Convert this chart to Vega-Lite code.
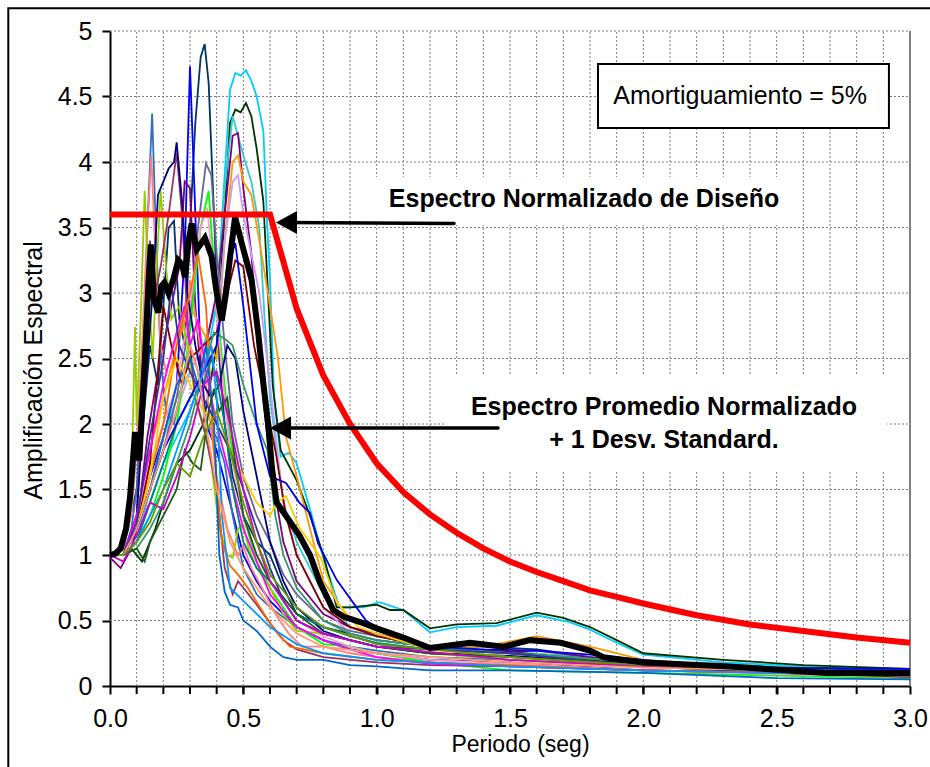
{
"$schema":"https://vega.github.io/schema/vega-lite/v6.json",
"width":800,"height":655,
"autosize":{"type":"none"},
"padding":{"left":110,"top":31,"right":20,"bottom":81},
"background":"white",
"config":{"font":"Liberation Sans","view":{"stroke":null},
"axis":{"domainColor":"black","domainWidth":2,"tickColor":"black","tickWidth":2,"tickSize":8,"labelColor":"black","labelFontSize":25,"labelFont":"Liberation Sans","titleColor":"black","titleFontSize":23,"titleFontWeight":"normal","titleFont":"Liberation Sans","grid":false,"zindex":1}},
"datasets":{
"gridx":[{"t":0.1},{"t":0.2},{"t":0.3},{"t":0.4},{"t":0.5},{"t":0.6},{"t":0.7},{"t":0.8},{"t":0.9},{"t":1.0},{"t":1.1},{"t":1.2},{"t":1.3},{"t":1.4},{"t":1.5},{"t":1.6},{"t":1.7},{"t":1.8},{"t":1.9},{"t":2.0},{"t":2.1},{"t":2.2},{"t":2.3},{"t":2.4},{"t":2.5},{"t":2.6},{"t":2.7},{"t":2.8},{"t":2.9}],
"gridy":[{"v":0.5},{"v":1.0},{"v":1.5},{"v":2.0},{"v":2.5},{"v":3.0},{"v":3.5},{"v":4.0},{"v":4.5},{"v":5.0}],
"recs":[
{"s":"a","t":0,"v":1.0},{"s":"a","t":0.05,"v":1.05},{"s":"a","t":0.1,"v":1.5},{"s":"a","t":0.12,"v":1.9},{"s":"a","t":0.15,"v":2.6},{"s":"a","t":0.18,"v":2.3},{"s":"a","t":0.2,"v":2.9},{"s":"a","t":0.22,"v":3.5},{"s":"a","t":0.24,"v":3.55},{"s":"a","t":0.26,"v":2.8},{"s":"a","t":0.28,"v":2.6},{"s":"a","t":0.3,"v":3.5},{"s":"a","t":0.32,"v":4.3},{"s":"a","t":0.34,"v":4.8},{"s":"a","t":0.355,"v":4.9},{"s":"a","t":0.37,"v":4.6},{"s":"a","t":0.39,"v":3.6},{"s":"a","t":0.41,"v":2.5},{"s":"a","t":0.43,"v":2.0},{"s":"a","t":0.46,"v":1.6},{"s":"a","t":0.5,"v":1.3},{"s":"a","t":0.55,"v":1.1},{"s":"a","t":0.6,"v":1.0},{"s":"a","t":0.65,"v":0.75},{"s":"a","t":0.7,"v":0.55},{"s":"a","t":0.8,"v":0.45},{"s":"a","t":0.9,"v":0.4},{"s":"a","t":1.0,"v":0.35},{"s":"a","t":1.2,"v":0.3},{"s":"a","t":1.4,"v":0.3},{"s":"a","t":1.6,"v":0.28},{"s":"a","t":1.8,"v":0.22},{"s":"a","t":2.0,"v":0.18},{"s":"a","t":2.5,"v":0.13},{"s":"a","t":3.0,"v":0.1},
{"s":"b","t":0,"v":1.0},{"s":"b","t":0.05,"v":1.0},{"s":"b","t":0.1,"v":1.2},{"s":"b","t":0.15,"v":1.6},{"s":"b","t":0.2,"v":1.9},{"s":"b","t":0.25,"v":2.3},{"s":"b","t":0.28,"v":3.3},{"s":"b","t":0.3,"v":4.73},{"s":"b","t":0.32,"v":3.6},{"s":"b","t":0.34,"v":2.5},{"s":"b","t":0.36,"v":2.0},{"s":"b","t":0.4,"v":1.8},{"s":"b","t":0.45,"v":1.4},{"s":"b","t":0.5,"v":1.0},{"s":"b","t":0.55,"v":0.8},{"s":"b","t":0.6,"v":0.65},{"s":"b","t":0.7,"v":0.45},{"s":"b","t":0.8,"v":0.35},{"s":"b","t":0.9,"v":0.28},{"s":"b","t":1.0,"v":0.25},{"s":"b","t":1.2,"v":0.2},{"s":"b","t":1.5,"v":0.18},{"s":"b","t":2.0,"v":0.12},{"s":"b","t":2.5,"v":0.1},{"s":"b","t":3.0,"v":0.08},
{"s":"c","t":0,"v":1.0},{"s":"c","t":0.05,"v":1.05},{"s":"c","t":0.1,"v":1.2},{"s":"c","t":0.15,"v":1.4},{"s":"c","t":0.2,"v":1.7},{"s":"c","t":0.25,"v":1.9},{"s":"c","t":0.3,"v":2.1},{"s":"c","t":0.35,"v":2.4},{"s":"c","t":0.4,"v":2.9},{"s":"c","t":0.43,"v":3.9},{"s":"c","t":0.45,"v":4.55},{"s":"c","t":0.47,"v":4.68},{"s":"c","t":0.49,"v":4.66},{"s":"c","t":0.51,"v":4.7},{"s":"c","t":0.53,"v":4.62},{"s":"c","t":0.55,"v":4.5},{"s":"c","t":0.575,"v":4.24},{"s":"c","t":0.59,"v":3.5},{"s":"c","t":0.6,"v":3.1},{"s":"c","t":0.615,"v":2.2},{"s":"c","t":0.64,"v":1.75},{"s":"c","t":0.67,"v":1.78},{"s":"c","t":0.7,"v":1.7},{"s":"c","t":0.75,"v":1.35},{"s":"c","t":0.8,"v":0.98},{"s":"c","t":0.86,"v":0.6},{"s":"c","t":0.95,"v":0.6},{"s":"c","t":1.01,"v":0.64},{"s":"c","t":1.1,"v":0.58},{"s":"c","t":1.2,"v":0.41},{"s":"c","t":1.3,"v":0.45},{"s":"c","t":1.45,"v":0.46},{"s":"c","t":1.6,"v":0.54},{"s":"c","t":1.72,"v":0.49},{"s":"c","t":1.8,"v":0.43},{"s":"c","t":1.9,"v":0.33},{"s":"c","t":2.0,"v":0.24},{"s":"c","t":2.3,"v":0.18},{"s":"c","t":2.6,"v":0.15},{"s":"c","t":3.0,"v":0.12},
{"s":"d","t":0,"v":1.0},{"s":"d","t":0.05,"v":1.0},{"s":"d","t":0.08,"v":1.05},{"s":"d","t":0.1,"v":1.0},{"s":"d","t":0.12,"v":0.95},{"s":"d","t":0.14,"v":1.05},{"s":"d","t":0.17,"v":1.2},{"s":"d","t":0.2,"v":1.4},{"s":"d","t":0.25,"v":1.7},{"s":"d","t":0.3,"v":1.8},{"s":"d","t":0.35,"v":2.0},{"s":"d","t":0.4,"v":2.6},{"s":"d","t":0.43,"v":3.6},{"s":"d","t":0.45,"v":4.3},{"s":"d","t":0.47,"v":4.4},{"s":"d","t":0.49,"v":4.38},{"s":"d","t":0.51,"v":4.45},{"s":"d","t":0.53,"v":4.35},{"s":"d","t":0.55,"v":4.1},{"s":"d","t":0.575,"v":3.7},{"s":"d","t":0.59,"v":3.1},{"s":"d","t":0.61,"v":2.3},{"s":"d","t":0.64,"v":1.8},{"s":"d","t":0.7,"v":1.57},{"s":"d","t":0.75,"v":1.3},{"s":"d","t":0.8,"v":1.0},{"s":"d","t":0.85,"v":0.6},{"s":"d","t":0.9,"v":0.6},{"s":"d","t":1.0,"v":0.62},{"s":"d","t":1.05,"v":0.58},{"s":"d","t":1.1,"v":0.58},{"s":"d","t":1.2,"v":0.44},{"s":"d","t":1.3,"v":0.47},{"s":"d","t":1.45,"v":0.48},{"s":"d","t":1.6,"v":0.56},{"s":"d","t":1.7,"v":0.52},{"s":"d","t":1.8,"v":0.45},{"s":"d","t":1.9,"v":0.35},{"s":"d","t":2.0,"v":0.25},{"s":"d","t":2.3,"v":0.2},{"s":"d","t":2.6,"v":0.16},{"s":"d","t":3.0,"v":0.13},
{"s":"e","t":0,"v":1.0},{"s":"e","t":0.05,"v":1.0},{"s":"e","t":0.1,"v":1.1},{"s":"e","t":0.15,"v":1.5},{"s":"e","t":0.2,"v":1.9},{"s":"e","t":0.25,"v":2.2},{"s":"e","t":0.3,"v":2.4},{"s":"e","t":0.35,"v":2.6},{"s":"e","t":0.4,"v":2.9},{"s":"e","t":0.43,"v":3.8},{"s":"e","t":0.46,"v":4.35},{"s":"e","t":0.48,"v":4.2},{"s":"e","t":0.5,"v":4.05},{"s":"e","t":0.53,"v":3.85},{"s":"e","t":0.56,"v":3.5},{"s":"e","t":0.58,"v":2.8},{"s":"e","t":0.6,"v":2.2},{"s":"e","t":0.65,"v":1.4},{"s":"e","t":0.7,"v":1.1},{"s":"e","t":0.8,"v":0.7},{"s":"e","t":0.9,"v":0.45},{"s":"e","t":1.0,"v":0.38},{"s":"e","t":1.2,"v":0.3},{"s":"e","t":1.5,"v":0.26},{"s":"e","t":1.8,"v":0.22},{"s":"e","t":2.0,"v":0.18},{"s":"e","t":2.5,"v":0.15},{"s":"e","t":3.0,"v":0.12},
{"s":"f","t":0,"v":0.98},{"s":"f","t":0.04,"v":0.9},{"s":"f","t":0.08,"v":1.05},{"s":"f","t":0.1,"v":1.2},{"s":"f","t":0.14,"v":1.9},{"s":"f","t":0.18,"v":2.4},{"s":"f","t":0.22,"v":2.8},{"s":"f","t":0.26,"v":3.2},{"s":"f","t":0.28,"v":3.85},{"s":"f","t":0.3,"v":3.8},{"s":"f","t":0.32,"v":2.9},{"s":"f","t":0.34,"v":2.4},{"s":"f","t":0.38,"v":2.8},{"s":"f","t":0.4,"v":3.0},{"s":"f","t":0.43,"v":3.6},{"s":"f","t":0.46,"v":4.2},{"s":"f","t":0.48,"v":4.22},{"s":"f","t":0.5,"v":3.8},{"s":"f","t":0.53,"v":3.3},{"s":"f","t":0.56,"v":2.5},{"s":"f","t":0.6,"v":1.7},{"s":"f","t":0.65,"v":1.1},{"s":"f","t":0.7,"v":0.8},{"s":"f","t":0.8,"v":0.55},{"s":"f","t":0.9,"v":0.45},{"s":"f","t":1.0,"v":0.4},{"s":"f","t":1.2,"v":0.3},{"s":"f","t":1.5,"v":0.26},{"s":"f","t":1.6,"v":0.27},{"s":"f","t":1.8,"v":0.22},{"s":"f","t":2.0,"v":0.16},{"s":"f","t":2.5,"v":0.1},{"s":"f","t":3.0,"v":0.06},
{"s":"g","t":0,"v":1.0},{"s":"g","t":0.05,"v":1.0},{"s":"g","t":0.1,"v":1.3},{"s":"g","t":0.15,"v":1.8},{"s":"g","t":0.2,"v":2.2},{"s":"g","t":0.25,"v":2.6},{"s":"g","t":0.3,"v":2.9},{"s":"g","t":0.35,"v":2.7},{"s":"g","t":0.4,"v":2.5},{"s":"g","t":0.43,"v":3.4},{"s":"g","t":0.46,"v":4.0},{"s":"g","t":0.48,"v":4.05},{"s":"g","t":0.5,"v":3.85},{"s":"g","t":0.53,"v":3.75},{"s":"g","t":0.56,"v":3.4},{"s":"g","t":0.6,"v":2.9},{"s":"g","t":0.63,"v":2.5},{"s":"g","t":0.66,"v":1.9},{"s":"g","t":0.7,"v":1.6},{"s":"g","t":0.75,"v":1.2},{"s":"g","t":0.8,"v":0.8},{"s":"g","t":0.9,"v":0.5},{"s":"g","t":1.0,"v":0.45},{"s":"g","t":1.1,"v":0.38},{"s":"g","t":1.2,"v":0.3},{"s":"g","t":1.4,"v":0.3},{"s":"g","t":1.6,"v":0.38},{"s":"g","t":1.8,"v":0.3},{"s":"g","t":2.0,"v":0.2},{"s":"g","t":2.5,"v":0.13},{"s":"g","t":3.0,"v":0.1},
{"s":"h","t":0,"v":1.0},{"s":"h","t":0.05,"v":1.0},{"s":"h","t":0.1,"v":1.2},{"s":"h","t":0.15,"v":1.5},{"s":"h","t":0.2,"v":1.9},{"s":"h","t":0.25,"v":2.1},{"s":"h","t":0.3,"v":2.4},{"s":"h","t":0.35,"v":2.6},{"s":"h","t":0.4,"v":2.7},{"s":"h","t":0.43,"v":3.4},{"s":"h","t":0.46,"v":3.85},{"s":"h","t":0.48,"v":3.9},{"s":"h","t":0.5,"v":3.6},{"s":"h","t":0.53,"v":3.3},{"s":"h","t":0.56,"v":3.0},{"s":"h","t":0.6,"v":2.3},{"s":"h","t":0.65,"v":1.4},{"s":"h","t":0.7,"v":1.0},{"s":"h","t":0.8,"v":0.6},{"s":"h","t":0.9,"v":0.4},{"s":"h","t":1.0,"v":0.32},{"s":"h","t":1.2,"v":0.25},{"s":"h","t":1.5,"v":0.22},{"s":"h","t":2.0,"v":0.15},{"s":"h","t":2.5,"v":0.1},{"s":"h","t":3.0,"v":0.08},
{"s":"i","t":0,"v":1.0},{"s":"i","t":0.05,"v":1.0},{"s":"i","t":0.08,"v":1.2},{"s":"i","t":0.1,"v":1.5},{"s":"i","t":0.12,"v":2.3},{"s":"i","t":0.14,"v":3.5},{"s":"i","t":0.158,"v":4.37},{"s":"i","t":0.17,"v":3.6},{"s":"i","t":0.19,"v":2.5},{"s":"i","t":0.21,"v":2.1},{"s":"i","t":0.24,"v":2.0},{"s":"i","t":0.27,"v":2.3},{"s":"i","t":0.3,"v":2.6},{"s":"i","t":0.33,"v":2.4},{"s":"i","t":0.36,"v":2.0},{"s":"i","t":0.4,"v":1.9},{"s":"i","t":0.43,"v":1.7},{"s":"i","t":0.46,"v":1.3},{"s":"i","t":0.5,"v":0.9},{"s":"i","t":0.55,"v":0.7},{"s":"i","t":0.6,"v":0.6},{"s":"i","t":0.7,"v":0.45},{"s":"i","t":0.8,"v":0.35},{"s":"i","t":0.9,"v":0.3},{"s":"i","t":1.0,"v":0.27},{"s":"i","t":1.2,"v":0.22},{"s":"i","t":1.5,"v":0.2},{"s":"i","t":2.0,"v":0.15},{"s":"i","t":2.5,"v":0.12},{"s":"i","t":3.0,"v":0.1},
{"s":"j","t":0,"v":1.0},{"s":"j","t":0.05,"v":1.05},{"s":"j","t":0.08,"v":1.3},{"s":"j","t":0.1,"v":1.8},{"s":"j","t":0.12,"v":2.6},{"s":"j","t":0.14,"v":3.5},{"s":"j","t":0.155,"v":4.05},{"s":"j","t":0.17,"v":3.3},{"s":"j","t":0.19,"v":2.6},{"s":"j","t":0.21,"v":2.4},{"s":"j","t":0.24,"v":2.6},{"s":"j","t":0.27,"v":2.8},{"s":"j","t":0.3,"v":3.1},{"s":"j","t":0.33,"v":2.7},{"s":"j","t":0.36,"v":2.3},{"s":"j","t":0.4,"v":1.6},{"s":"j","t":0.44,"v":1.2},{"s":"j","t":0.48,"v":1.0},{"s":"j","t":0.5,"v":1.07},{"s":"j","t":0.53,"v":0.9},{"s":"j","t":0.575,"v":0.73},{"s":"j","t":0.62,"v":0.55},{"s":"j","t":0.67,"v":0.4},{"s":"j","t":0.72,"v":0.3},{"s":"j","t":0.8,"v":0.3},{"s":"j","t":0.9,"v":0.25},{"s":"j","t":1.0,"v":0.22},{"s":"j","t":1.2,"v":0.18},{"s":"j","t":1.5,"v":0.15},{"s":"j","t":2.0,"v":0.12},{"s":"j","t":2.5,"v":0.1},{"s":"j","t":3.0,"v":0.08},
{"s":"k","t":0,"v":1.0},{"s":"k","t":0.05,"v":1.0},{"s":"k","t":0.1,"v":1.2},{"s":"k","t":0.15,"v":1.5},{"s":"k","t":0.2,"v":1.8},{"s":"k","t":0.25,"v":2.2},{"s":"k","t":0.3,"v":2.8},{"s":"k","t":0.33,"v":3.5},{"s":"k","t":0.36,"v":3.99},{"s":"k","t":0.38,"v":3.9},{"s":"k","t":0.4,"v":3.3},{"s":"k","t":0.43,"v":2.6},{"s":"k","t":0.46,"v":2.0},{"s":"k","t":0.5,"v":1.6},{"s":"k","t":0.55,"v":1.3},{"s":"k","t":0.6,"v":1.1},{"s":"k","t":0.65,"v":0.85},{"s":"k","t":0.7,"v":0.7},{"s":"k","t":0.8,"v":0.5},{"s":"k","t":0.9,"v":0.42},{"s":"k","t":1.0,"v":0.38},{"s":"k","t":1.2,"v":0.3},{"s":"k","t":1.5,"v":0.25},{"s":"k","t":2.0,"v":0.18},{"s":"k","t":2.5,"v":0.14},{"s":"k","t":3.0,"v":0.12},
{"s":"l","t":0,"v":1.0},{"s":"l","t":0.05,"v":1.0},{"s":"l","t":0.1,"v":1.1},{"s":"l","t":0.15,"v":1.3},{"s":"l","t":0.2,"v":1.6},{"s":"l","t":0.25,"v":2.0},{"s":"l","t":0.3,"v":2.7},{"s":"l","t":0.34,"v":3.5},{"s":"l","t":0.37,"v":3.78},{"s":"l","t":0.39,"v":3.2},{"s":"l","t":0.42,"v":2.5},{"s":"l","t":0.45,"v":1.9},{"s":"l","t":0.5,"v":1.3},{"s":"l","t":0.55,"v":0.95},{"s":"l","t":0.6,"v":0.75},{"s":"l","t":0.65,"v":0.6},{"s":"l","t":0.7,"v":0.45},{"s":"l","t":0.8,"v":0.32},{"s":"l","t":0.9,"v":0.3},{"s":"l","t":1.0,"v":0.25},{"s":"l","t":1.2,"v":0.18},{"s":"l","t":1.5,"v":0.12},{"s":"l","t":2.0,"v":0.1},{"s":"l","t":2.5,"v":0.08},{"s":"l","t":3.0,"v":0.06},
{"s":"m","t":0,"v":1.0},{"s":"m","t":0.05,"v":1.0},{"s":"m","t":0.1,"v":1.3},{"s":"m","t":0.15,"v":1.7},{"s":"m","t":0.2,"v":2.0},{"s":"m","t":0.25,"v":2.3},{"s":"m","t":0.3,"v":2.9},{"s":"m","t":0.34,"v":3.5},{"s":"m","t":0.365,"v":3.65},{"s":"m","t":0.39,"v":3.1},{"s":"m","t":0.42,"v":2.4},{"s":"m","t":0.45,"v":1.8},{"s":"m","t":0.5,"v":1.3},{"s":"m","t":0.55,"v":1.0},{"s":"m","t":0.6,"v":0.8},{"s":"m","t":0.7,"v":0.5},{"s":"m","t":0.8,"v":0.38},{"s":"m","t":0.9,"v":0.3},{"s":"m","t":1.0,"v":0.25},{"s":"m","t":1.2,"v":0.2},{"s":"m","t":1.5,"v":0.17},{"s":"m","t":2.0,"v":0.12},{"s":"m","t":2.5,"v":0.09},{"s":"m","t":3.0,"v":0.07},
{"s":"n","t":0,"v":1.0},{"s":"n","t":0.05,"v":1.05},{"s":"n","t":0.08,"v":1.5},{"s":"n","t":0.094,"v":2.74},{"s":"n","t":0.1,"v":2.0},{"s":"n","t":0.115,"v":2.8},{"s":"n","t":0.13,"v":3.78},{"s":"n","t":0.145,"v":3.0},{"s":"n","t":0.16,"v":2.5},{"s":"n","t":0.175,"v":3.2},{"s":"n","t":0.19,"v":3.78},{"s":"n","t":0.21,"v":3.2},{"s":"n","t":0.23,"v":2.8},{"s":"n","t":0.26,"v":2.9},{"s":"n","t":0.29,"v":2.6},{"s":"n","t":0.32,"v":2.2},{"s":"n","t":0.35,"v":2.0},{"s":"n","t":0.38,"v":1.7},{"s":"n","t":0.41,"v":1.2},{"s":"n","t":0.44,"v":1.0},{"s":"n","t":0.46,"v":0.98},{"s":"n","t":0.48,"v":1.2},{"s":"n","t":0.5,"v":1.23},{"s":"n","t":0.52,"v":1.05},{"s":"n","t":0.55,"v":0.9},{"s":"n","t":0.6,"v":0.75},{"s":"n","t":0.65,"v":0.55},{"s":"n","t":0.7,"v":0.42},{"s":"n","t":0.8,"v":0.4},{"s":"n","t":0.9,"v":0.35},{"s":"n","t":1.0,"v":0.3},{"s":"n","t":1.2,"v":0.25},{"s":"n","t":1.5,"v":0.2},{"s":"n","t":2.0,"v":0.15},{"s":"n","t":2.5,"v":0.1},{"s":"n","t":3.0,"v":0.08},
{"s":"o","t":0,"v":1.0},{"s":"o","t":0.05,"v":1.0},{"s":"o","t":0.1,"v":1.3},{"s":"o","t":0.13,"v":2.5},{"s":"o","t":0.15,"v":3.4},{"s":"o","t":0.17,"v":3.0},{"s":"o","t":0.19,"v":3.2},{"s":"o","t":0.22,"v":3.6},{"s":"o","t":0.25,"v":4.07},{"s":"o","t":0.27,"v":3.6},{"s":"o","t":0.29,"v":2.8},{"s":"o","t":0.32,"v":2.2},{"s":"o","t":0.36,"v":1.9},{"s":"o","t":0.4,"v":1.5},{"s":"o","t":0.43,"v":0.9},{"s":"o","t":0.46,"v":0.7},{"s":"o","t":0.48,"v":0.8},{"s":"o","t":0.5,"v":0.75},{"s":"o","t":0.55,"v":0.62},{"s":"o","t":0.6,"v":0.48},{"s":"o","t":0.65,"v":0.35},{"s":"o","t":0.7,"v":0.28},{"s":"o","t":0.8,"v":0.22},{"s":"o","t":1.0,"v":0.18},{"s":"o","t":1.2,"v":0.16},{"s":"o","t":1.5,"v":0.15},{"s":"o","t":2.0,"v":0.12},{"s":"o","t":2.5,"v":0.1},{"s":"o","t":3.0,"v":0.08},
{"s":"p","t":0,"v":1.0},{"s":"p","t":0.05,"v":1.0},{"s":"p","t":0.1,"v":1.3},{"s":"p","t":0.13,"v":2.2},{"s":"p","t":0.16,"v":3.0},{"s":"p","t":0.18,"v":3.75},{"s":"p","t":0.2,"v":3.85},{"s":"p","t":0.22,"v":3.95},{"s":"p","t":0.24,"v":4.0},{"s":"p","t":0.25,"v":4.15},{"s":"p","t":0.27,"v":3.7},{"s":"p","t":0.29,"v":3.0},{"s":"p","t":0.32,"v":2.6},{"s":"p","t":0.35,"v":2.3},{"s":"p","t":0.38,"v":2.2},{"s":"p","t":0.41,"v":2.3},{"s":"p","t":0.44,"v":2.6},{"s":"p","t":0.47,"v":2.5},{"s":"p","t":0.5,"v":2.1},{"s":"p","t":0.55,"v":1.6},{"s":"p","t":0.6,"v":1.1},{"s":"p","t":0.65,"v":0.8},{"s":"p","t":0.7,"v":0.6},{"s":"p","t":0.8,"v":0.42},{"s":"p","t":0.9,"v":0.35},{"s":"p","t":1.0,"v":0.3},{"s":"p","t":1.2,"v":0.25},{"s":"p","t":1.5,"v":0.23},{"s":"p","t":2.0,"v":0.17},{"s":"p","t":2.5,"v":0.14},{"s":"p","t":3.0,"v":0.13},
{"s":"q","t":0,"v":1.0},{"s":"q","t":0.05,"v":1.0},{"s":"q","t":0.1,"v":1.2},{"s":"q","t":0.15,"v":1.7},{"s":"q","t":0.2,"v":2.9},{"s":"q","t":0.23,"v":2.6},{"s":"q","t":0.27,"v":2.3},{"s":"q","t":0.3,"v":2.5},{"s":"q","t":0.35,"v":2.6},{"s":"q","t":0.4,"v":2.7},{"s":"q","t":0.44,"v":3.0},{"s":"q","t":0.47,"v":3.25},{"s":"q","t":0.5,"v":3.2},{"s":"q","t":0.54,"v":2.6},{"s":"q","t":0.58,"v":2.2},{"s":"q","t":0.62,"v":1.8},{"s":"q","t":0.66,"v":1.3},{"s":"q","t":0.7,"v":1.0},{"s":"q","t":0.8,"v":0.6},{"s":"q","t":0.9,"v":0.45},{"s":"q","t":1.0,"v":0.38},{"s":"q","t":1.2,"v":0.3},{"s":"q","t":1.5,"v":0.26},{"s":"q","t":2.0,"v":0.15},{"s":"q","t":2.5,"v":0.1},{"s":"q","t":3.0,"v":0.07},
{"s":"r","t":0,"v":1.0},{"s":"r","t":0.05,"v":1.0},{"s":"r","t":0.1,"v":1.3},{"s":"r","t":0.15,"v":1.8},{"s":"r","t":0.2,"v":2.3},{"s":"r","t":0.25,"v":2.7},{"s":"r","t":0.28,"v":2.9},{"s":"r","t":0.3,"v":2.6},{"s":"r","t":0.33,"v":2.8},{"s":"r","t":0.36,"v":2.4},{"s":"r","t":0.4,"v":2.0},{"s":"r","t":0.45,"v":1.6},{"s":"r","t":0.5,"v":1.2},{"s":"r","t":0.55,"v":0.95},{"s":"r","t":0.6,"v":0.7},{"s":"r","t":0.7,"v":0.45},{"s":"r","t":0.8,"v":0.35},{"s":"r","t":0.9,"v":0.28},{"s":"r","t":1.0,"v":0.22},{"s":"r","t":1.2,"v":0.17},{"s":"r","t":1.5,"v":0.15},{"s":"r","t":2.0,"v":0.12},{"s":"r","t":2.5,"v":0.1},{"s":"r","t":3.0,"v":0.08},
{"s":"s","t":0,"v":1.0},{"s":"s","t":0.05,"v":1.0},{"s":"s","t":0.1,"v":1.2},{"s":"s","t":0.15,"v":1.6},{"s":"s","t":0.2,"v":2.0},{"s":"s","t":0.25,"v":2.6},{"s":"s","t":0.3,"v":3.0},{"s":"s","t":0.33,"v":3.3},{"s":"s","t":0.36,"v":2.9},{"s":"s","t":0.39,"v":1.8},{"s":"s","t":0.42,"v":1.1},{"s":"s","t":0.45,"v":0.92},{"s":"s","t":0.48,"v":0.85},{"s":"s","t":0.52,"v":0.74},{"s":"s","t":0.575,"v":0.56},{"s":"s","t":0.62,"v":0.42},{"s":"s","t":0.675,"v":0.3},{"s":"s","t":0.8,"v":0.25},{"s":"s","t":1.0,"v":0.2},{"s":"s","t":1.2,"v":0.18},{"s":"s","t":1.5,"v":0.16},{"s":"s","t":2.0,"v":0.12},{"s":"s","t":2.5,"v":0.1},{"s":"s","t":3.0,"v":0.08},
{"s":"t","t":0,"v":1.0},{"s":"t","t":0.05,"v":1.0},{"s":"t","t":0.1,"v":1.2},{"s":"t","t":0.15,"v":1.5},{"s":"t","t":0.2,"v":1.9},{"s":"t","t":0.25,"v":2.3},{"s":"t","t":0.3,"v":2.5},{"s":"t","t":0.33,"v":2.3},{"s":"t","t":0.36,"v":2.6},{"s":"t","t":0.39,"v":2.0},{"s":"t","t":0.41,"v":1.0},{"s":"t","t":0.43,"v":0.72},{"s":"t","t":0.45,"v":0.62},{"s":"t","t":0.48,"v":0.6},{"s":"t","t":0.5,"v":0.5},{"s":"t","t":0.55,"v":0.42},{"s":"t","t":0.6,"v":0.3},{"s":"t","t":0.65,"v":0.22},{"s":"t","t":0.7,"v":0.2},{"s":"t","t":0.8,"v":0.2},{"s":"t","t":0.9,"v":0.16},{"s":"t","t":1.0,"v":0.15},{"s":"t","t":1.2,"v":0.12},{"s":"t","t":1.5,"v":0.12},{"s":"t","t":2.0,"v":0.1},{"s":"t","t":2.5,"v":0.06},{"s":"t","t":3.0,"v":0.05},
{"s":"u","t":0,"v":1.0},{"s":"u","t":0.05,"v":1.0},{"s":"u","t":0.1,"v":1.1},{"s":"u","t":0.15,"v":1.4},{"s":"u","t":0.2,"v":1.7},{"s":"u","t":0.25,"v":2.0},{"s":"u","t":0.3,"v":2.2},{"s":"u","t":0.35,"v":2.3},{"s":"u","t":0.38,"v":2.5},{"s":"u","t":0.4,"v":2.35},{"s":"u","t":0.43,"v":2.0},{"s":"u","t":0.46,"v":1.5},{"s":"u","t":0.5,"v":1.1},{"s":"u","t":0.55,"v":0.9},{"s":"u","t":0.6,"v":0.8},{"s":"u","t":0.7,"v":0.55},{"s":"u","t":0.8,"v":0.45},{"s":"u","t":0.9,"v":0.38},{"s":"u","t":1.0,"v":0.33},{"s":"u","t":1.2,"v":0.28},{"s":"u","t":1.5,"v":0.25},{"s":"u","t":2.0,"v":0.18},{"s":"u","t":2.5,"v":0.13},{"s":"u","t":3.0,"v":0.12},
{"s":"v","t":0,"v":1.0},{"s":"v","t":0.05,"v":1.0},{"s":"v","t":0.1,"v":1.05},{"s":"v","t":0.15,"v":1.2},{"s":"v","t":0.2,"v":1.4},{"s":"v","t":0.25,"v":1.7},{"s":"v","t":0.3,"v":2.0},{"s":"v","t":0.35,"v":2.4},{"s":"v","t":0.39,"v":2.7},{"s":"v","t":0.43,"v":2.65},{"s":"v","t":0.46,"v":2.6},{"s":"v","t":0.5,"v":2.3},{"s":"v","t":0.55,"v":2.0},{"s":"v","t":0.59,"v":1.8},{"s":"v","t":0.62,"v":1.3},{"s":"v","t":0.65,"v":1.0},{"s":"v","t":0.7,"v":0.75},{"s":"v","t":0.8,"v":0.5},{"s":"v","t":0.9,"v":0.4},{"s":"v","t":1.0,"v":0.35},{"s":"v","t":1.2,"v":0.3},{"s":"v","t":1.5,"v":0.25},{"s":"v","t":2.0,"v":0.18},{"s":"v","t":2.5,"v":0.13},{"s":"v","t":3.0,"v":0.12},
{"s":"w","t":0,"v":1.0},{"s":"w","t":0.05,"v":1.0},{"s":"w","t":0.1,"v":1.2},{"s":"w","t":0.15,"v":1.6},{"s":"w","t":0.2,"v":2.2},{"s":"w","t":0.25,"v":2.5},{"s":"w","t":0.3,"v":2.3},{"s":"w","t":0.35,"v":2.1},{"s":"w","t":0.4,"v":2.0},{"s":"w","t":0.45,"v":1.8},{"s":"w","t":0.5,"v":1.6},{"s":"w","t":0.55,"v":1.4},{"s":"w","t":0.6,"v":1.3},{"s":"w","t":0.625,"v":1.4},{"s":"w","t":0.66,"v":1.45},{"s":"w","t":0.71,"v":1.21},{"s":"w","t":0.79,"v":0.98},{"s":"w","t":0.85,"v":0.64},{"s":"w","t":0.93,"v":0.45},{"s":"w","t":1.0,"v":0.4},{"s":"w","t":1.2,"v":0.28},{"s":"w","t":1.5,"v":0.22},{"s":"w","t":2.0,"v":0.15},{"s":"w","t":2.5,"v":0.12},{"s":"w","t":3.0,"v":0.1},
{"s":"x","t":0,"v":1.0},{"s":"x","t":0.05,"v":1.0},{"s":"x","t":0.1,"v":1.05},{"s":"x","t":0.13,"v":0.95},{"s":"x","t":0.15,"v":1.1},{"s":"x","t":0.2,"v":1.3},{"s":"x","t":0.25,"v":1.5},{"s":"x","t":0.28,"v":1.8},{"s":"x","t":0.31,"v":1.7},{"s":"x","t":0.34,"v":1.65},{"s":"x","t":0.37,"v":2.1},{"s":"x","t":0.39,"v":2.27},{"s":"x","t":0.41,"v":2.1},{"s":"x","t":0.44,"v":2.2},{"s":"x","t":0.47,"v":1.7},{"s":"x","t":0.5,"v":1.3},{"s":"x","t":0.55,"v":1.0},{"s":"x","t":0.6,"v":0.8},{"s":"x","t":0.7,"v":0.55},{"s":"x","t":0.8,"v":0.4},{"s":"x","t":0.9,"v":0.35},{"s":"x","t":1.0,"v":0.3},{"s":"x","t":1.2,"v":0.25},{"s":"x","t":1.5,"v":0.22},{"s":"x","t":2.0,"v":0.16},{"s":"x","t":2.5,"v":0.12},{"s":"x","t":3.0,"v":0.1},
{"s":"y","t":0,"v":1.0},{"s":"y","t":0.05,"v":1.0},{"s":"y","t":0.1,"v":1.25},{"s":"y","t":0.15,"v":1.9},{"s":"y","t":0.2,"v":2.5},{"s":"y","t":0.23,"v":3.05},{"s":"y","t":0.26,"v":2.6},{"s":"y","t":0.3,"v":2.4},{"s":"y","t":0.35,"v":2.2},{"s":"y","t":0.4,"v":2.0},{"s":"y","t":0.45,"v":1.8},{"s":"y","t":0.5,"v":1.5},{"s":"y","t":0.55,"v":1.2},{"s":"y","t":0.6,"v":0.9},{"s":"y","t":0.65,"v":0.65},{"s":"y","t":0.7,"v":0.5},{"s":"y","t":0.8,"v":0.4},{"s":"y","t":0.9,"v":0.35},{"s":"y","t":1.0,"v":0.3},{"s":"y","t":1.2,"v":0.28},{"s":"y","t":1.5,"v":0.25},{"s":"y","t":2.0,"v":0.15},{"s":"y","t":2.5,"v":0.12},{"s":"y","t":3.0,"v":0.1},
{"s":"z","t":0,"v":1.0},{"s":"z","t":0.05,"v":1.0},{"s":"z","t":0.1,"v":1.2},{"s":"z","t":0.15,"v":1.5},{"s":"z","t":0.2,"v":1.8},{"s":"z","t":0.25,"v":2.0},{"s":"z","t":0.3,"v":2.2},{"s":"z","t":0.35,"v":2.4},{"s":"z","t":0.4,"v":2.6},{"s":"z","t":0.44,"v":3.2},{"s":"z","t":0.47,"v":3.38},{"s":"z","t":0.5,"v":2.9},{"s":"z","t":0.55,"v":2.0},{"s":"z","t":0.6,"v":1.6},{"s":"z","t":0.66,"v":1.55},{"s":"z","t":0.71,"v":1.4},{"s":"z","t":0.75,"v":1.32},{"s":"z","t":0.78,"v":1.09},{"s":"z","t":0.85,"v":0.81},{"s":"z","t":0.96,"v":0.5},{"s":"z","t":1.0,"v":0.45},{"s":"z","t":1.1,"v":0.38},{"s":"z","t":1.2,"v":0.3},{"s":"z","t":1.4,"v":0.28},{"s":"z","t":1.6,"v":0.27},{"s":"z","t":1.8,"v":0.24},{"s":"z","t":2.0,"v":0.2},{"s":"z","t":2.3,"v":0.15},{"s":"z","t":2.6,"v":0.13},{"s":"z","t":3.0,"v":0.13},
{"s":"a2","t":0,"v":1.0},{"s":"a2","t":0.05,"v":1.0},{"s":"a2","t":0.1,"v":1.1},{"s":"a2","t":0.15,"v":1.3},{"s":"a2","t":0.2,"v":1.5},{"s":"a2","t":0.25,"v":1.8},{"s":"a2","t":0.3,"v":2.1},{"s":"a2","t":0.35,"v":2.4},{"s":"a2","t":0.38,"v":2.6},{"s":"a2","t":0.4,"v":2.2},{"s":"a2","t":0.42,"v":1.3},{"s":"a2","t":0.45,"v":0.75},{"s":"a2","t":0.5,"v":0.65},{"s":"a2","t":0.55,"v":0.55},{"s":"a2","t":0.6,"v":0.45},{"s":"a2","t":0.7,"v":0.32},{"s":"a2","t":0.8,"v":0.25},{"s":"a2","t":1.0,"v":0.2},{"s":"a2","t":1.5,"v":0.15},{"s":"a2","t":2.0,"v":0.12},{"s":"a2","t":3.0,"v":0.08},
{"s":"b2","t":0,"v":1.0},{"s":"b2","t":0.05,"v":0.95},{"s":"b2","t":0.1,"v":1.15},{"s":"b2","t":0.15,"v":1.4},{"s":"b2","t":0.2,"v":1.35},{"s":"b2","t":0.25,"v":1.6},{"s":"b2","t":0.3,"v":1.9},{"s":"b2","t":0.35,"v":2.3},{"s":"b2","t":0.4,"v":2.4},{"s":"b2","t":0.45,"v":2.0},{"s":"b2","t":0.5,"v":1.5},{"s":"b2","t":0.55,"v":1.1},{"s":"b2","t":0.6,"v":0.8},{"s":"b2","t":0.7,"v":0.5},{"s":"b2","t":0.8,"v":0.4},{"s":"b2","t":1.0,"v":0.3},{"s":"b2","t":1.5,"v":0.2},{"s":"b2","t":2.0,"v":0.15},{"s":"b2","t":3.0,"v":0.1},
{"s":"c2","t":0,"v":1.0},{"s":"c2","t":0.05,"v":1.0},{"s":"c2","t":0.1,"v":1.2},{"s":"c2","t":0.15,"v":1.5},{"s":"c2","t":0.2,"v":1.8},{"s":"c2","t":0.25,"v":2.1},{"s":"c2","t":0.3,"v":2.6},{"s":"c2","t":0.33,"v":2.4},{"s":"c2","t":0.36,"v":2.0},{"s":"c2","t":0.4,"v":1.5},{"s":"c2","t":0.45,"v":1.1},{"s":"c2","t":0.5,"v":0.9},{"s":"c2","t":0.55,"v":0.75},{"s":"c2","t":0.6,"v":0.6},{"s":"c2","t":0.7,"v":0.4},{"s":"c2","t":0.8,"v":0.3},{"s":"c2","t":1.0,"v":0.25},{"s":"c2","t":1.5,"v":0.18},{"s":"c2","t":2.0,"v":0.14},{"s":"c2","t":3.0,"v":0.1},
{"s":"d2","t":0,"v":1.0},{"s":"d2","t":0.05,"v":1.0},{"s":"d2","t":0.1,"v":1.1},{"s":"d2","t":0.15,"v":1.25},{"s":"d2","t":0.2,"v":1.5},{"s":"d2","t":0.25,"v":1.7},{"s":"d2","t":0.3,"v":1.6},{"s":"d2","t":0.35,"v":1.9},{"s":"d2","t":0.4,"v":2.1},{"s":"d2","t":0.45,"v":1.8},{"s":"d2","t":0.5,"v":1.4},{"s":"d2","t":0.55,"v":1.1},{"s":"d2","t":0.6,"v":0.85},{"s":"d2","t":0.7,"v":0.6},{"s":"d2","t":0.8,"v":0.45},{"s":"d2","t":1.0,"v":0.32},{"s":"d2","t":1.5,"v":0.22},{"s":"d2","t":2.0,"v":0.16},{"s":"d2","t":3.0,"v":0.1}
],
"mean":[
{"t":0,"v":1.0},{"t":0.02,"v":1.01},{"t":0.04,"v":1.05},{"t":0.06,"v":1.2},{"t":0.075,"v":1.44},{"t":0.094,"v":1.94},{"t":0.11,"v":1.72},{"t":0.12,"v":2.1},{"t":0.131,"v":2.5},{"t":0.145,"v":3.1},{"t":0.153,"v":3.37},{"t":0.165,"v":2.95},{"t":0.181,"v":2.85},{"t":0.192,"v":3.05},{"t":0.204,"v":3.08},{"t":0.219,"v":3.0},{"t":0.237,"v":3.1},{"t":0.256,"v":3.25},{"t":0.27,"v":3.22},{"t":0.281,"v":3.12},{"t":0.295,"v":3.4},{"t":0.306,"v":3.53},{"t":0.325,"v":3.33},{"t":0.356,"v":3.42},{"t":0.381,"v":3.28},{"t":0.4,"v":3.0},{"t":0.419,"v":2.79},{"t":0.435,"v":3.0},{"t":0.45,"v":3.27},{"t":0.469,"v":3.58},{"t":0.494,"v":3.38},{"t":0.531,"v":3.1},{"t":0.556,"v":2.69},{"t":0.575,"v":2.31},{"t":0.594,"v":1.98},{"t":0.607,"v":1.67},{"t":0.625,"v":1.4},{"t":0.663,"v":1.29},{"t":0.71,"v":1.15},{"t":0.75,"v":1.0},{"t":0.7875,"v":0.79},{"t":0.837,"v":0.58},{"t":0.875,"v":0.53},{"t":0.95,"v":0.48},{"t":1.0,"v":0.44},{"t":1.1,"v":0.37},{"t":1.2,"v":0.29},{"t":1.35,"v":0.33},{"t":1.475,"v":0.3},{"t":1.575,"v":0.35},{"t":1.69,"v":0.33},{"t":1.8,"v":0.27},{"t":1.85,"v":0.22},{"t":2.0,"v":0.18},{"t":2.31,"v":0.15},{"t":2.69,"v":0.1},{"t":3.0,"v":0.1}
],
"design":[
{"t":0,"v":3.6},{"t":0.6,"v":3.6},{"t":0.7,"v":2.88},{"t":0.8,"v":2.37},{"t":0.9,"v":2.0},{"t":1.0,"v":1.7},{"t":1.1,"v":1.48},{"t":1.2,"v":1.31},{"t":1.3,"v":1.17},{"t":1.4,"v":1.05},{"t":1.5,"v":0.95},{"t":1.6,"v":0.87},{"t":1.7,"v":0.8},{"t":1.8,"v":0.73},{"t":1.9,"v":0.68},{"t":2.0,"v":0.63},{"t":2.2,"v":0.54},{"t":2.4,"v":0.47},{"t":2.6,"v":0.42},{"t":2.8,"v":0.37},{"t":3.0,"v":0.33}
]
},
"layer":[
{"data":{"name":"gridx"},
 "mark":{"type":"rule","color":"#808080","strokeWidth":1,"strokeDash":[2,2]},
 "encoding":{"x":{"field":"t","type":"quantitative","scale":{"domain":[0,3],"nice":false,"zero":false},
   "axis":{"title":"Periodo (seg)","values":[0,0.5,1,1.5,2,2.5,3],"tickCount":7,"format":".1f","labelPadding":12,"titlePadding":2,"titleX":410,"labelOverlap":false,"labelFlush":false,"labelBound":false}},
  "y":{"datum":0,"type":"quantitative","scale":{"domain":[0,5],"nice":false,"zero":false},
   "axis":{"title":"Amplificación Espectral","titleFontSize":25,"titleY":339,"values":[0,0.5,1,1.5,2,2.5,3,3.5,4,4.5,5],"tickCount":11,"format":"~g","labelPadding":10,"titlePadding":11,"labelOverlap":false,"labelFlush":false}},
  "y2":{"datum":5}}},
{"data":{"name":"gridy"},
 "mark":{"type":"rule","color":"#808080","strokeWidth":1,"strokeDash":[2,2]},
 "encoding":{"y":{"field":"v","type":"quantitative"},"x":{"datum":0,"type":"quantitative"},"x2":{"datum":3}}},
{"data":{"name":"gridx"},
 "mark":{"type":"rule","color":"black","strokeWidth":2,"clip":false},
 "encoding":{"x":{"field":"t","type":"quantitative"},"y":{"datum":0,"type":"quantitative"},"y2":{"datum":-0.061}}},
{"data":{"values":[{"t":-0.3814,"t2":3.2,"v":5.173,"v2":-0.9}]},
 "mark":{"type":"rect","fillOpacity":0,"stroke":"black","strokeWidth":2,"clip":false},
 "encoding":{"x":{"field":"t","type":"quantitative"},"x2":{"field":"t2"},"y":{"field":"v","type":"quantitative"},"y2":{"field":"v2"}}},
{"data":{"values":[{"t":0.956,"t2":2.5875,"v":3.885,"v2":3.519},{"t":1.256,"t2":2.914,"v":2.374,"v2":1.634}]},
 "mark":{"type":"rect","fill":"white"},
 "encoding":{"x":{"field":"t","type":"quantitative"},"x2":{"field":"t2"},"y":{"field":"v","type":"quantitative"},"y2":{"field":"v2"}}},
{"data":{"values":[{"t":3.0,"v":0,"v2":5}]},
 "mark":{"type":"rule","color":"#808080","strokeWidth":2},
 "encoding":{"x":{"field":"t","type":"quantitative"},"y":{"field":"v","type":"quantitative"},"y2":{"field":"v2"}}},
{"data":{"name":"recs"},
 "mark":{"type":"line","strokeWidth":1.8},
 "encoding":{
  "x":{"field":"t","type":"quantitative"},
  "y":{"field":"v","type":"quantitative"},
  "color":{"field":"s","type":"nominal","legend":null,"scale":{"domain":["a","b","c","d","e","f","g","h","i","j","k","l","m","n","o","p","q","r","s","t","u","v","w","x","y","z","a2","b2","c2","d2"],
   "range":["#003366","#0000ff","#00ccff","#003300","#33cccc","#800080","#ff9900","#cc99ff","#3070c0","#ff8080","#666699","#00ff00","#ff99cc","#99cc00","#993366","#000080","#800000","#ff00ff","#ff6600","#0066cc","#008080","#339966","#ffcc00","#1e5b1e","#333399","#0000ee","#0099ff","#cc00cc","#ff9966","#669900"]}},
  "order":{"field":"t","type":"quantitative"}
 }},
{"data":{"name":"mean"},
 "mark":{"type":"line","color":"black","strokeWidth":6},
 "encoding":{"x":{"field":"t","type":"quantitative"},"y":{"field":"v","type":"quantitative"},"order":{"field":"t","type":"quantitative"}}},
{"data":{"name":"design"},
 "mark":{"type":"line","color":"#ff0000","strokeWidth":6},
 "encoding":{"x":{"field":"t","type":"quantitative"},"y":{"field":"v","type":"quantitative"},"order":{"field":"t","type":"quantitative"}}},
{"data":{"values":[{"t":0.66,"t2":1.29,"v":3.538,"v2":3.53},{"t":0.64,"t2":1.455,"v":1.97,"v2":1.97}]},
 "mark":{"type":"rule","color":"black","strokeWidth":3.5,"strokeCap":"round"},
 "encoding":{"x":{"field":"t","type":"quantitative"},"x2":{"field":"t2"},"y":{"field":"v","type":"quantitative"},"y2":{"field":"v2"}}},
{"data":{"values":[{"t":0.6225,"v":3.538},{"t":0.6,"v":1.97}]},
 "mark":{"type":"point","shape":"M0,0L2,-1.1L2,1.1Z","size":440,"filled":true,"color":"black","opacity":1},
 "encoding":{"x":{"field":"t","type":"quantitative"},"y":{"field":"v","type":"quantitative"}}},
{"data":{"values":[{"t":1.83,"t2":2.921,"v":4.748,"v2":4.26}]},
 "mark":{"type":"rect","fill":"white","stroke":"black","strokeWidth":2},
 "encoding":{"x":{"field":"t","type":"quantitative"},"x2":{"field":"t2"},"y":{"field":"v","type":"quantitative"},"y2":{"field":"v2"}}},
{"data":{"values":[{"t":2.363,"v":4.443,"label":"Amortiguamiento = 5%"}]},
 "mark":{"type":"text","fontSize":25,"font":"Liberation Sans","align":"center","baseline":"alphabetic","color":"black"},
 "encoding":{"x":{"field":"t","type":"quantitative"},"y":{"field":"v","type":"quantitative"},"text":{"field":"label"}}},
{"data":{"values":[{"t":1.7775,"v":3.656,"label":"Espectro Normalizado de Diseño"},{"t":2.0775,"v":2.069,"label":"Espectro Promedio Normalizado"},{"t":2.0775,"v":1.814,"label":"+ 1 Desv. Standard."}]},
 "mark":{"type":"text","fontSize":25,"fontWeight":"bold","font":"Liberation Sans","align":"center","baseline":"alphabetic","color":"black"},
 "encoding":{"x":{"field":"t","type":"quantitative"},"y":{"field":"v","type":"quantitative"},"text":{"field":"label"}}}
]
}
